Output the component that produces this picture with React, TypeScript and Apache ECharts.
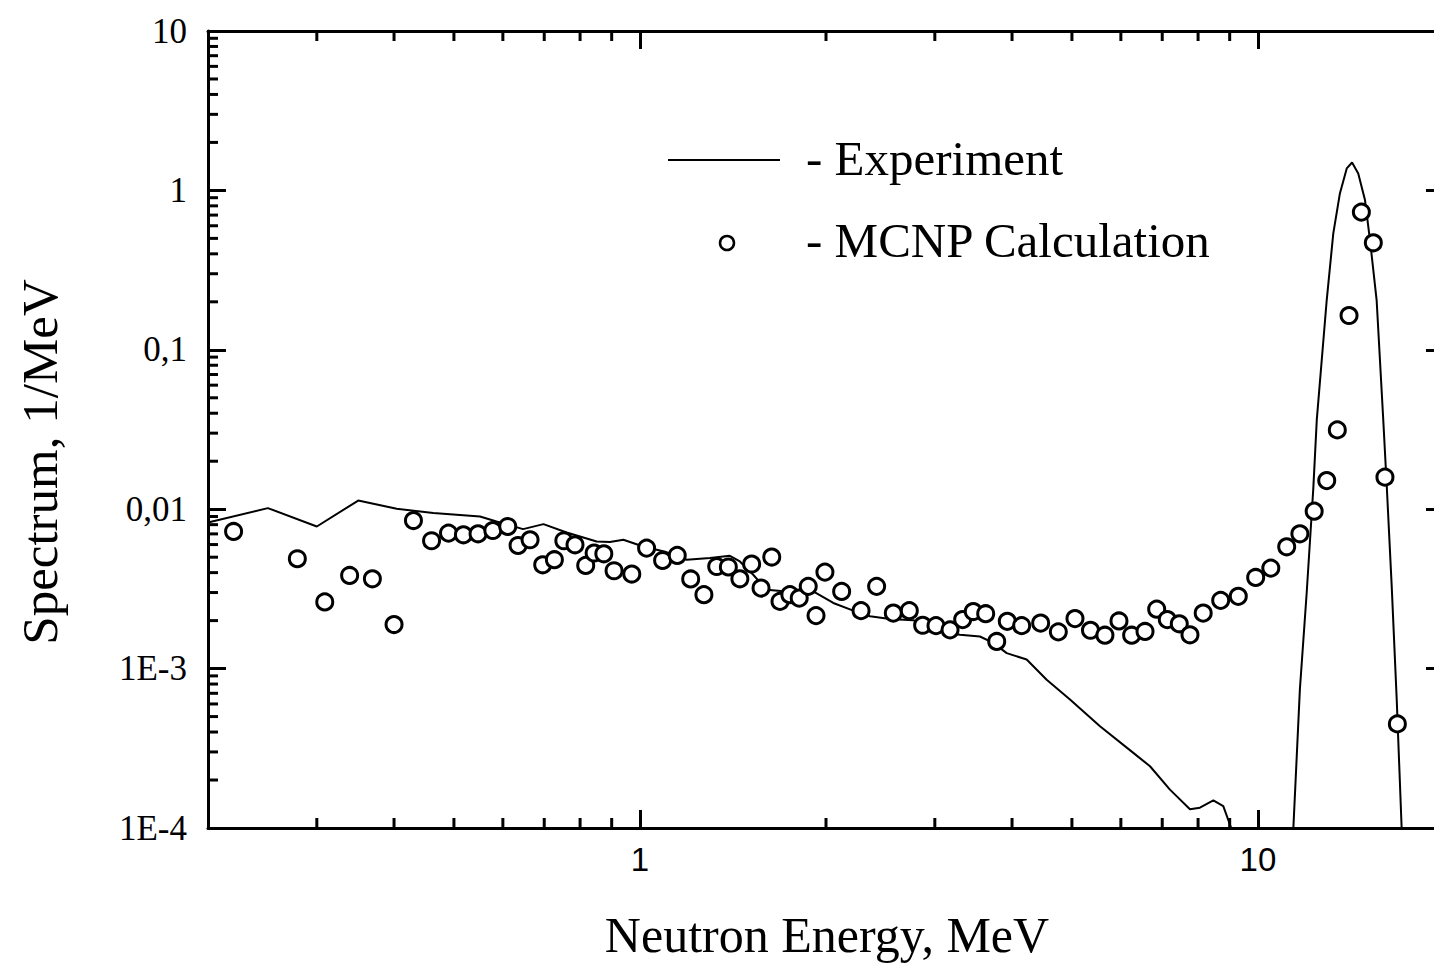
import React, { useEffect, useRef } from 'react';
import * as echarts from 'echarts';

const X_MIN = 0.2;
const X_MAX = 20;
const Y_MIN = 1e-4;
const Y_MAX = 10;

const xTickValues = [1, 10];
const xTickLabels = ['1', '10'];
const yTickValues = [1e-4, 1e-3, 1e-2, 1e-1, 1, 10];
const yTickLabels = ['1E-4', '1E-3', '0,01', '0,1', '1', '10'];

const xMinorTicks = [0.3, 0.4, 0.5, 0.6, 0.7, 0.8, 0.9, 2, 3, 4, 5, 6, 7, 8, 9];
const yMinorTicks = [
  2e-4, 3e-4, 4e-4, 5e-4, 6e-4, 7e-4, 8e-4, 9e-4,
  2e-3, 3e-3, 4e-3, 5e-3, 6e-3, 7e-3, 8e-3, 9e-3,
  0.02, 0.03, 0.04, 0.05, 0.06, 0.07, 0.08, 0.09,
  0.2, 0.3, 0.4, 0.5, 0.6, 0.7, 0.8, 0.9,
  2, 3, 4, 5, 6, 7, 8, 9,
];

// MCNP calculation (open circles)
const mcnpEnergy = [
  0.220, 0.279, 0.309, 0.339, 0.369, 0.400, 0.430, 0.460, 0.490, 0.518,
  0.547, 0.578, 0.611, 0.635, 0.664, 0.696, 0.727, 0.753, 0.785, 0.817,
  0.843, 0.874, 0.908, 0.970, 1.025, 1.088, 1.149, 1.208, 1.269, 1.331,
  1.390, 1.451, 1.516, 1.570, 1.634, 1.685, 1.748, 1.810, 1.872, 1.927,
  1.992, 2.120, 2.279, 2.415, 2.570, 2.728, 2.867, 3.013, 3.175, 3.328,
  3.462, 3.626, 3.778, 3.930, 4.146, 4.450, 4.753, 5.057, 5.358, 5.654,
  5.958, 6.246, 6.565, 6.857, 7.133, 7.459, 7.762, 8.154, 8.703, 9.293,
  9.915, 10.49, 11.13, 11.69, 12.33, 12.92, 13.44, 14.04, 14.70, 15.37,
  16.05, 16.81,
];
const mcnpSpectrum = [
  7.25e-3, 4.89e-3, 2.62e-3, 3.84e-3, 3.66e-3, 1.89e-3, 8.49e-3, 6.34e-3, 7.08e-3, 6.91e-3,
  7.01e-3, 7.35e-3, 7.79e-3, 5.92e-3, 6.43e-3, 4.48e-3, 4.82e-3, 6.34e-3, 5.98e-3, 4.44e-3,
  5.31e-3, 5.25e-3, 4.11e-3, 3.92e-3, 5.70e-3, 4.77e-3, 5.13e-3, 3.65e-3, 2.91e-3, 4.37e-3,
  4.34e-3, 3.66e-3, 4.53e-3, 3.20e-3, 5.01e-3, 2.64e-3, 2.91e-3, 2.77e-3, 3.28e-3, 2.15e-3,
  4.03e-3, 3.05e-3, 2.31e-3, 3.28e-3, 2.23e-3, 2.31e-3, 1.87e-3, 1.86e-3, 1.75e-3, 2.03e-3,
  2.28e-3, 2.21e-3, 1.48e-3, 1.98e-3, 1.86e-3, 1.93e-3, 1.70e-3, 2.06e-3, 1.74e-3, 1.62e-3,
  1.99e-3, 1.62e-3, 1.71e-3, 2.36e-3, 2.03e-3, 1.91e-3, 1.63e-3, 2.23e-3, 2.68e-3, 2.84e-3,
  3.73e-3, 4.27e-3, 5.81e-3, 7.01e-3, 9.72e-3, 0.01512, 0.03145, 0.1641, 0.7307, 0.4692,
  0.01589, 4.50e-4,
];

// Experiment (solid line), continuum part
const expEnergy = [
  0.2, 0.250, 0.300, 0.350, 0.404, 0.463, 0.551, 0.586, 0.647, 0.698,
  0.761, 0.851, 0.894, 0.940, 1.012, 1.098, 1.190, 1.298, 1.398, 1.451,
  1.525, 1.603, 1.727, 1.907, 2.055, 2.214, 2.356, 2.539, 2.768, 2.983,
  3.175, 3.295, 3.549, 3.730, 3.921, 4.224, 4.551, 4.964, 5.551, 6.285,
  6.688, 7.204, 7.762, 8.055, 8.468, 8.788, 9.05,
];
const expSpectrum = [
  8.25e-3, 0.01016, 7.79e-3, 0.01133, 0.01006, 9.45e-3, 8.99e-3, 8.37e-3, 7.50e-3, 8.06e-3,
  7.14e-3, 6.27e-3, 6.22e-3, 6.43e-3, 5.84e-3, 5.41e-3, 4.82e-3, 4.94e-3, 5.10e-3, 4.70e-3,
  3.88e-3, 3.12e-3, 3.05e-3, 3.05e-3, 2.58e-3, 2.31e-3, 2.13e-3, 2.05e-3, 2.01e-3, 1.84e-3,
  1.67e-3, 1.63e-3, 1.59e-3, 1.45e-3, 1.25e-3, 1.14e-3, 8.52e-4, 6.39e-4, 4.35e-4, 2.96e-4,
  2.44e-4, 1.74e-4, 1.31e-4, 1.34e-4, 1.49e-4, 1.37e-4, 1.0e-4,
];

// Experiment (solid line), 14 MeV peak
const peakEnergy = [
  11.41, 11.69, 11.99, 12.29, 12.45, 12.92, 13.24, 13.57, 13.92, 14.20,
  14.53, 14.90, 15.18, 15.56, 15.95, 16.16, 16.46, 16.77, 17.08,
];
const peakSpectrum = [
  1.0e-4, 7.38e-4, 2.98e-3, 0.0135, 0.0363, 0.2052, 0.5375, 0.957, 1.373, 1.497,
  1.277, 0.869, 0.488, 0.2052, 0.0363, 0.01387, 3.28e-3, 6.39e-4, 1.0e-4,
];

const SERIF = "'Liberation Serif', 'Times New Roman', serif";
const SANS = "'Liberation Sans', Arial, sans-serif";
const INK = '#000';

const pickLabel = (v: number, values: number[], labels: string[]) => {
  const i = values.findIndex((t) => Math.abs(Math.log10(v) - Math.log10(t)) < 1e-6);
  return i >= 0 ? labels[i] : '';
};

const zip = (a: number[], b: number[]) => a.map((v, i) => [v, b[i]]);

export default function App() {
  const ref = useRef<HTMLDivElement>(null);

  useEffect(() => {
    if (!ref.current) return;
    const chart = echarts.init(ref.current, null, { renderer: 'svg' });

    const axisLine = { show: true, lineStyle: { color: INK, width: 3 } };
    const majorTick = { show: true, inside: true, length: 18, lineStyle: { color: INK, width: 3 } };

    const option: any = {
      animation: false,
      backgroundColor: '#fff',
      grid: { left: 208, top: 31, width: 1236, height: 797, containLabel: false },
      xAxis: [
        {
          type: 'log', logBase: 10, min: X_MIN, max: X_MAX, position: 'bottom',
          axisLine, axisTick: majorTick, splitLine: { show: false },
          axisLabel: {
            show: true, margin: 15, color: INK, fontFamily: SANS, fontSize: 33,
            formatter: (v: number) => pickLabel(v, xTickValues, xTickLabels),
          },
        },
        {
          type: 'log', logBase: 10, min: X_MIN, max: X_MAX, position: 'top',
          axisLine, axisTick: majorTick, splitLine: { show: false }, axisLabel: { show: false },
        },
      ],
      yAxis: [
        {
          type: 'log', logBase: 10, min: Y_MIN, max: Y_MAX, position: 'left',
          axisLine, axisTick: majorTick, splitLine: { show: false },
          axisLabel: {
            show: true, margin: 21, color: INK, fontFamily: SERIF, fontSize: 35,
            padding: [0, 0, 12, 0],
            formatter: (v: number) => pickLabel(v, yTickValues, yTickLabels),
          },
        },
        {
          type: 'log', logBase: 10, min: Y_MIN, max: Y_MAX, position: 'right',
          axisLine, axisTick: majorTick, splitLine: { show: false }, axisLabel: { show: false },
        },
      ],
      series: [
        {
          type: 'custom', name: 'xMinor', silent: true, xAxisIndex: 0, yAxisIndex: 0,
          data: xMinorTicks.map((v) => [v, Y_MIN]),
          renderItem: (params: any, api: any) => {
            const p = api.coord([api.value(0), Y_MIN]);
            const cs = params.coordSys;
            const style = { stroke: INK, lineWidth: 3 };
            return {
              type: 'group',
              children: [
                { type: 'line', shape: { x1: p[0], y1: cs.y + cs.height, x2: p[0], y2: cs.y + cs.height - 10 }, style },
                { type: 'line', shape: { x1: p[0], y1: cs.y, x2: p[0], y2: cs.y + 10 }, style },
              ],
            };
          },
        },
        {
          type: 'custom', name: 'yMinor', silent: true, xAxisIndex: 0, yAxisIndex: 0,
          data: yMinorTicks.map((v) => [X_MIN, v]),
          renderItem: (params: any, api: any) => {
            const p = api.coord([X_MIN, api.value(1)]);
            const cs = params.coordSys;
            return {
              type: 'line',
              shape: { x1: cs.x, y1: p[1], x2: cs.x + 10, y2: p[1] },
              style: { stroke: INK, lineWidth: 3 },
            };
          },
        },
        {
          type: 'line', name: 'Experiment', data: zip(expEnergy, expSpectrum),
          showSymbol: false, symbol: 'none', clip: true,
          lineStyle: { color: INK, width: 2 },
        },
        {
          type: 'line', name: 'Experiment', data: zip(peakEnergy, peakSpectrum),
          showSymbol: false, symbol: 'none', clip: true,
          lineStyle: { color: INK, width: 2 },
        },
        {
          type: 'scatter', name: 'MCNP Calculation', data: zip(mcnpEnergy, mcnpSpectrum),
          symbol: 'circle', symbolSize: 16,
          itemStyle: { color: '#fff', borderColor: INK, borderWidth: 3, opacity: 1 },
          z: 5,
        },
      ],
      graphic: [
        { type: 'line', shape: { x1: 668, y1: 160, x2: 780, y2: 160 }, style: { stroke: INK, lineWidth: 2 } },
        {
          type: 'text', x: 806, y: 158,
          style: { text: '- Experiment', font: `49px ${SERIF}`, fill: INK, align: 'left', verticalAlign: 'middle', textAlign: 'left', textVerticalAlign: 'middle' },
        },
        { type: 'circle', shape: { cx: 727, cy: 243, r: 7 }, style: { fill: '#fff', stroke: INK, lineWidth: 2.5 } },
        {
          type: 'text', x: 806, y: 240,
          style: { text: '- MCNP Calculation', font: `49px ${SERIF}`, fill: INK, align: 'left', verticalAlign: 'middle', textAlign: 'left', textVerticalAlign: 'middle' },
        },
        {
          type: 'text', x: 827, y: 935,
          style: { text: 'Neutron Energy, MeV', font: `50px ${SERIF}`, fill: INK, align: 'center', verticalAlign: 'middle', textAlign: 'center', textVerticalAlign: 'middle' },
        },
        {
          type: 'text', x: 40, y: 462, rotation: Math.PI / 2,
          style: { text: 'Spectrum, 1/MeV', font: `51px ${SERIF}`, fill: INK, align: 'center', verticalAlign: 'middle', textAlign: 'center', textVerticalAlign: 'middle' },
        },
      ],
    };

    chart.setOption(option);
    return () => chart.dispose();
  }, []);

  return (
    <div
      ref={ref}
      style={{ position: 'fixed', left: 0, top: 0, width: 1460, height: 963, background: '#fff' }}
    />
  );
}
